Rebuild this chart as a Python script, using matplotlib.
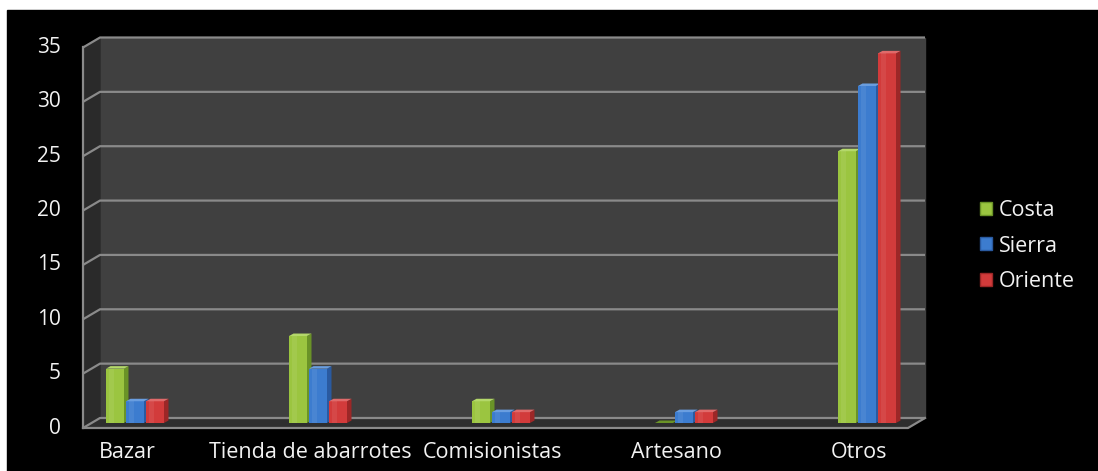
import numpy as np
import matplotlib.pyplot as plt
from matplotlib.patches import Polygon, Rectangle, Patch

# Ventas por tipo de comercio y region
categorias = ["Bazar", "Tienda de abarrotes", "Comisionistas", "Artesano", "Otros"]
regiones = ["Costa", "Sierra", "Oriente"]
costa = [5, 8, 2, 0, 25]
sierra = [2, 5, 1, 1, 31]
oriente = [2, 2, 1, 1, 34]
valores = [costa, sierra, oriente]
yticks = [0, 5, 10, 15, 20, 25, 30, 35]

colores = ["#9bc540", "#3c7ccf", "#d23b3b"]
lados = ["#6a9327", "#2a5aa0", "#9c2727"]
topes = ["#b4d86a", "#6a9ee0", "#e06a6a"]

W, H = 1098, 471
fig = plt.figure(figsize=(W / 100, H / 100), dpi=100, facecolor="white")
plt.rcParams["font.family"] = ["Open Sans", "DejaVu Sans"]

# fondo negro del grafico
fig.patches.append(Rectangle((7 / W, 0), 1 - 7 / W, 1 - 10 / H,
                             transform=fig.transFigure, color="black", zorder=-10))

# plano medio del "3D": 0 en y=423 px, 35 en y=42.5 px
ax_px = (91.5, 423, 825, 380.5)
ax = fig.add_axes([ax_px[0] / W, (H - ax_px[1]) / H, ax_px[2] / W, ax_px[3] / H])
ax.set_facecolor("none")
ax.axis("off")

paso = 183.0
x0 = 135.0
xmin = (ax_px[0] - x0) / paso
xmax = (ax_px[0] + ax_px[2] - x0) / paso
ax.set_xlim(xmin, xmax)
ax.set_ylim(0, 35)

px2x = (xmax - xmin) / ax_px[2]
px2y = 35 / ax_px[3]
dx, dy = 8.5 * px2x, 5 * px2y

gris = "#8a8a8a"

# pared trasera, pared lateral y piso
ax.add_patch(Polygon([(xmin + dx, dy), (xmax + dx, dy), (xmax + dx, 35 + dy), (xmin + dx, 35 + dy)],
                     closed=True, color="#404040", zorder=1, clip_on=False))
ax.add_patch(Polygon([(xmin - dx, -dy), (xmin - dx, 35 - dy), (xmin + dx, 35 + dy), (xmin + dx, dy)],
                     closed=True, color="#2a2a2a", zorder=1, clip_on=False))
ax.add_patch(Polygon([(xmin - dx, -dy), (xmax - dx, -dy), (xmax + dx, dy), (xmin + dx, dy)],
                     closed=True, color="#2e2e2e", zorder=1, clip_on=False))

for v in yticks:
    ax.plot([xmin - dx, xmin + dx, xmax + dx], [v - dy, v + dy, v + dy],
            color=gris, lw=1.6, zorder=2, clip_on=False, solid_capstyle="butt")
ax.plot([xmin - dx, xmin - dx], [-dy, 35 - dy], color=gris, lw=1.6, zorder=2, clip_on=False)
ax.plot([xmin - dx, xmax - dx, xmax + dx], [-dy, -dy, dy], color=gris, lw=1.6, zorder=2, clip_on=False)

# barras con cara frontal, lateral y superior
ancho = 18 / paso
sep = 20 / paso
sx, sy = 4.5 * px2x, 2.5 * px2y
x = np.arange(len(categorias))
for k, serie in enumerate(valores):
    xs = x + (k - 1) * sep
    ax.bar(xs, serie, width=ancho, color=colores[k], zorder=3 + k, linewidth=0)
    for xi, v in zip(xs, serie):
        r = xi + ancho / 2
        l = xi - ancho / 2
        ax.add_patch(Polygon([(r, 0), (r, v), (r + sx, v + sy), (r + sx, sy)],
                             closed=True, color=lados[k], zorder=3 + k, lw=0))
        ax.add_patch(Polygon([(l, v), (r, v), (r + sx, v + sy), (l + sx, v + sy)],
                             closed=True, color=topes[k] if v > 0 else lados[k], zorder=3 + k, lw=0))
        # brillo suave en la cara frontal
        if v > 0:
            ax.add_patch(Rectangle((l + ancho * 0.15, 0), ancho * 0.3, v,
                                   color="white", alpha=0.07, zorder=3 + k, lw=0))

# etiquetas del eje vertical (plano frontal)
for v in yticks:
    ax.text(xmin - (ax_px[0] - 61) * px2x, v - dy, str(v), ha="right", va="center",
            color="#f2f2f2", fontsize=15, clip_on=False)

# etiquetas de categorias
for i, c in enumerate(categorias):
    ax.text(i - 8 * px2x, -29 * px2y, c, ha="center", va="center",
            color="#f2f2f2", fontsize=15.5, clip_on=False)

handles = [Patch(facecolor=colores[k], edgecolor=lados[k], label=regiones[k]) for k in range(3)]
fig.legend(handles=handles, loc="center left", bbox_to_anchor=(961 / W, (H - 246) / H),
           frameon=False, fontsize=15.5, labelcolor="#f2f2f2", handlelength=0.55,
           handleheight=0.55, handletextpad=0.3, labelspacing=0.68)

fig.savefig("out.png", dpi=100, facecolor=fig.get_facecolor())
